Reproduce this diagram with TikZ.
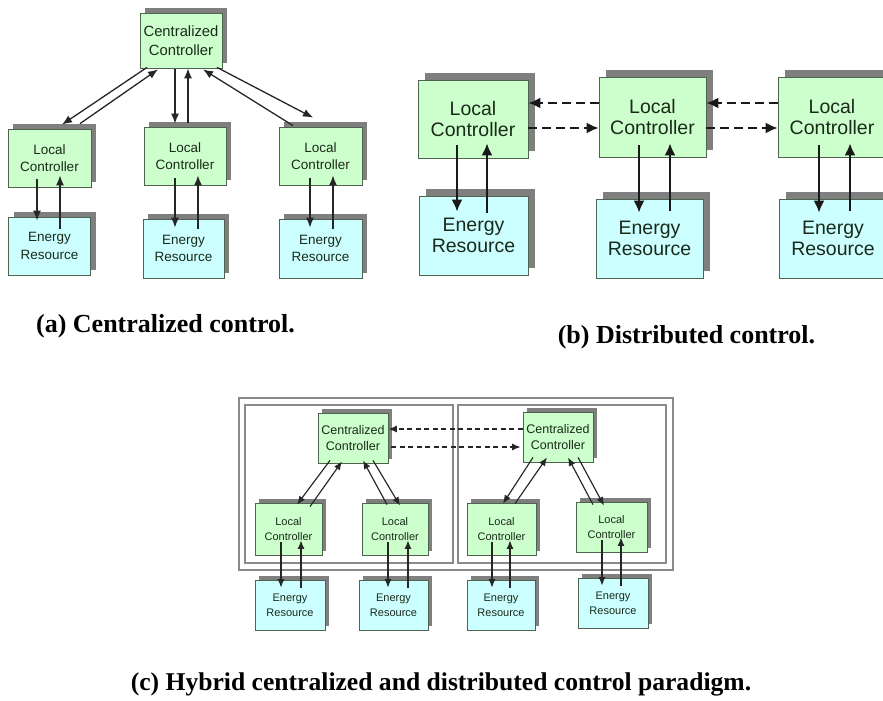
\documentclass[tikz,border=0pt]{standalone}
\usepackage{fontspec}
\setmainfont{Liberation Sans}
\newfontfamily\capfont{Liberation Serif}
\usetikzlibrary{shadows,calc,arrows.meta}
\definecolor{gfill}{HTML}{CCFFCC}
\definecolor{bfill}{HTML}{CCFFFF}
\definecolor{shad}{HTML}{7F7F7F}
\definecolor{bord}{HTML}{4F634F}
\definecolor{txt}{HTML}{1A2A1A}
\definecolor{frame}{HTML}{8A8A8A}
\begin{document}
\begin{tikzpicture}[x=1pt,y=-1pt,
  box/.style={draw=bord, line width=0.8pt, align=center, text=txt, inner sep=0pt},
  gbox/.style={box, fill=gfill},
  bbox/.style={box, fill=bfill},
  sha/.style={general shadow={fill=shad, shadow xshift=#1, shadow yshift=#1}},
  fa/.style={font=\fontsize{14.8}{19}\selectfont},
  fal/.style={font=\fontsize{13.5}{17.5}\selectfont},
  fb/.style={font=\fontsize{19.5}{21.5}\selectfont},
  fc/.style={font=\fontsize{12.5}{15.5}\selectfont},
  fcl/.style={font=\fontsize{11}{15}\selectfont},
  arra/.style={-{Latex[length=10pt,width=8pt]}, line width=1.3pt, draw=black!85},
  arrb/.style={-{Latex[length=12pt,width=11pt]}, line width=2pt, draw=black!90},
  arrc/.style={-{Latex[length=8.5pt,width=7pt]}, line width=1.15pt, draw=black!85},
  dashb/.style={dash pattern=on 9pt off 5pt},
  dashc/.style={dash pattern=on 5pt off 3.5pt},
  capt/.style={anchor=base, font=\capfont\bfseries\fontsize{26}{30}\selectfont}
]
\useasboundingbox (0,0) rectangle (883,701);
\fill[white] (0,0) rectangle (883,701);
\clip (0,0) rectangle (883,701);

% ---------------- (a) centralized ----------------
\node[gbox, sha=5pt, minimum width=82pt, minimum height=55pt, fa] (CA) at (181,40.5) {Centralized\\Controller};
\node[gbox, sha=5pt, minimum width=83pt, minimum height=58pt, fal] (LA1) at (49.5,158) {Local\\Controller};
\node[gbox, sha=5pt, minimum width=82pt, minimum height=58pt, fal] (LA2) at (185,156) {Local\\Controller};
\node[gbox, sha=5pt, minimum width=83pt, minimum height=58pt, fal] (LA3) at (320.5,156) {Local\\Controller};
\node[bbox, sha=5pt, minimum width=82pt, minimum height=58pt, fal] (EA1) at (49.5,246) {Energy\\Resource};
\node[bbox, sha=5pt, minimum width=81pt, minimum height=59pt, fal] (EA2) at (183.5,248.5) {Energy\\Resource};
\node[bbox, sha=5pt, minimum width=83pt, minimum height=59pt, fal] (EA3) at (320.5,248.5) {Energy\\Resource};

\draw[arra] ($(CA.south)+(-34,-1)$) -- ($(LA1.north)+(12.5,-4)$);
\draw[arra] ($(LA1.north)+(30.5,-5)$) -- ($(CA.south)+(-23,1)$);
\draw[arra] ($(CA.south)+(-6,1)$) -- ($(LA2.north)+(-10,-3)$);
\draw[arra] ($(LA2.north)+(3,-4)$) -- ($(CA.south)+(7,0)$);
\draw[arra] ($(CA.south)+(36,-1)$) -- ($(LA3.north)+(-7.5,-9)$);
\draw[arra] ($(LA3.north)+(-27.5,-1)$) -- ($(CA.south)+(22,1)$);

\draw[arra] ($(LA1.south)+(-12.5,-8)$) -- ($(EA1.north)+(-12.5,4)$);
\draw[arra] ($(EA1.north)+(10.5,12)$) -- ($(LA1.south)+(10.5,-12)$);
\draw[arra] ($(LA2.south)+(-10,-7)$) -- ($(EA2.north)+(-8.5,9)$);
\draw[arra] ($(EA2.north)+(14.5,10)$) -- ($(LA2.south)+(13,-10)$);
\draw[arra] ($(LA3.south)+(-10.5,-7)$) -- ($(EA3.north)+(-10.5,9)$);
\draw[arra] ($(EA3.north)+(12.5,10)$) -- ($(LA3.south)+(12.5,-10)$);

\node[capt] (capa) at (165.5,332) {(a) Centralized control.};

% ---------------- (b) distributed ----------------
\node[gbox, sha=7pt, minimum width=110pt, minimum height=78pt, fb] (LB1) at (473,119) {Local\\Controller};
\node[gbox, sha=7pt, minimum width=107pt, minimum height=80pt, fb] (LB2) at (652.5,117) {Local\\Controller};
\node[gbox, sha=7pt, minimum width=108pt, minimum height=80pt, fb] (LB3) at (832,117) {Local\\Controller};
\node[bbox, sha=7pt, minimum width=109pt, minimum height=79pt, fb] (EB1) at (473.5,235.5) {Energy\\Resource};
\node[bbox, sha=7pt, minimum width=107pt, minimum height=79pt, fb] (EB2) at (649.5,238.5) {Energy\\Resource};
\node[bbox, sha=7pt, minimum width=108pt, minimum height=79pt, fb] (EB3) at (833,238.5) {Energy\\Resource};

\draw[arrb, dashb] ($(LB2.west)+(0,-14)$) -- ($(LB1.east)+(0,-16)$);
\draw[arrb, dashb] ($(LB1.east)+(0,9)$) -- ($(LB2.west)+(0,11)$);
\draw[arrb, dashb] ($(LB3.west)+(0,-14)$) -- ($(LB2.east)+(0,-14)$);
\draw[arrb, dashb] ($(LB2.east)+(0,11)$) -- ($(LB3.west)+(0,11)$);

\draw[arrb] ($(LB1.south)+(-16,-13)$) -- ($(EB1.north)+(-16.5,16)$);
\draw[arrb] ($(EB1.north)+(13.5,17)$) -- ($(LB1.south)+(14,-15)$);
\draw[arrb] ($(LB2.south)+(-13.5,-12)$) -- ($(EB2.north)+(-10.5,14)$);
\draw[arrb] ($(EB2.north)+(20.5,12)$) -- ($(LB2.south)+(17.5,-14)$);
\draw[arrb] ($(LB3.south)+(-13,-12)$) -- ($(EB3.north)+(-14,14)$);
\draw[arrb] ($(EB3.north)+(17,12)$) -- ($(LB3.south)+(18,-14)$);

\node[capt] (capb) at (686.5,343) {(b) Distributed control.};

% ---------------- (c) hybrid ----------------
\draw[frame, line width=1.3pt] (239,398) rectangle (673,570);
\draw[frame, line width=1.3pt] (245,405) rectangle (453,563);
\draw[frame, line width=1.3pt] (458,405) rectangle (666,563);

\node[gbox, sha=4pt, minimum width=70pt, minimum height=50pt, fc] (CC1) at (353,438) {Centralized\\Controller};
\node[gbox, sha=4pt, minimum width=70pt, minimum height=50pt, fc] (CC2) at (558,437) {Centralized\\Controller};
\node[gbox, sha=4pt, minimum width=67pt, minimum height=52pt, fcl] (LC1) at (288.5,529) {Local\\Controller};
\node[gbox, sha=4pt, minimum width=66pt, minimum height=52pt, fcl] (LC2) at (395,529) {Local\\Controller};
\node[gbox, sha=4pt, minimum width=69pt, minimum height=52pt, fcl] (LC3) at (501.5,529) {Local\\Controller};
\node[gbox, sha=4pt, minimum width=71pt, minimum height=50pt, fcl] (LC4) at (611.5,527) {Local\\Controller};
\node[bbox, sha=4pt, minimum width=70pt, minimum height=50pt, fcl] (EC1) at (290,605) {Energy\\Resource};
\node[bbox, sha=4pt, minimum width=69pt, minimum height=50pt, fcl] (EC2) at (393.5,605) {Energy\\Resource};
\node[bbox, sha=4pt, minimum width=68pt, minimum height=50pt, fcl] (EC3) at (501,605) {Energy\\Resource};
\node[bbox, sha=4pt, minimum width=70pt, minimum height=50pt, fcl] (EC4) at (613,603) {Energy\\Resource};

\draw[arrc, dashc] ($(CC2.west)+(0,-8)$) -- ($(CC1.east)+(0,-9)$);
\draw[arrc, dashc] ($(CC1.east)+(3,9)$) -- ($(CC2.west)+(-2,10)$);

\draw[arrc] ($(CC1.south)+(-23,-3)$) -- ($(LC1.north)+(8.5,2)$);
\draw[arrc] ($(LC1.north)+(21.5,4)$) -- ($(CC1.south)+(-11,-2)$);
\draw[arrc] ($(LC2.north)+(-8,2)$) -- ($(CC1.south)+(10,-3)$);
\draw[arrc] ($(CC1.south)+(20,-3)$) -- ($(LC2.north)+(5,3)$);
\draw[arrc] ($(CC2.south)+(-25,-5)$) -- ($(LC3.north)+(1.5,1)$);
\draw[arrc] ($(LC3.north)+(13.5,1)$) -- ($(CC2.south)+(-11,-5)$);
\draw[arrc] ($(LC4.north)+(-18.5,3)$) -- ($(CC2.south)+(10,-5)$);
\draw[arrc] ($(CC2.south)+(20,-5)$) -- ($(LC4.north)+(-7.5,4)$);

\draw[arrc] ($(LC1.south)+(-7.5,-13)$) -- ($(EC1.north)+(-9,8)$);
\draw[arrc] ($(EC1.north)+(11,8)$) -- ($(LC1.south)+(12.5,-15)$);
\draw[arrc] ($(LC2.south)+(-7,-13)$) -- ($(EC2.north)+(-5.5,8)$);
\draw[arrc] ($(EC2.north)+(14.5,8)$) -- ($(LC2.south)+(13,-15)$);
\draw[arrc] ($(LC3.south)+(-9.5,-13)$) -- ($(EC3.north)+(-9,8)$);
\draw[arrc] ($(EC3.north)+(9,8)$) -- ($(LC3.south)+(8.5,-15)$);
\draw[arrc] ($(LC4.south)+(-9.5,-12)$) -- ($(EC4.north)+(-11,8)$);
\draw[arrc] ($(EC4.north)+(8,8)$) -- ($(LC4.south)+(9.5,-15)$);

\node[capt, font=\capfont\bfseries\fontsize{25.6}{30}\selectfont] (capc) at (441,690) {(c) Hybrid centralized and distributed control paradigm.};
\end{tikzpicture}
\end{document}
